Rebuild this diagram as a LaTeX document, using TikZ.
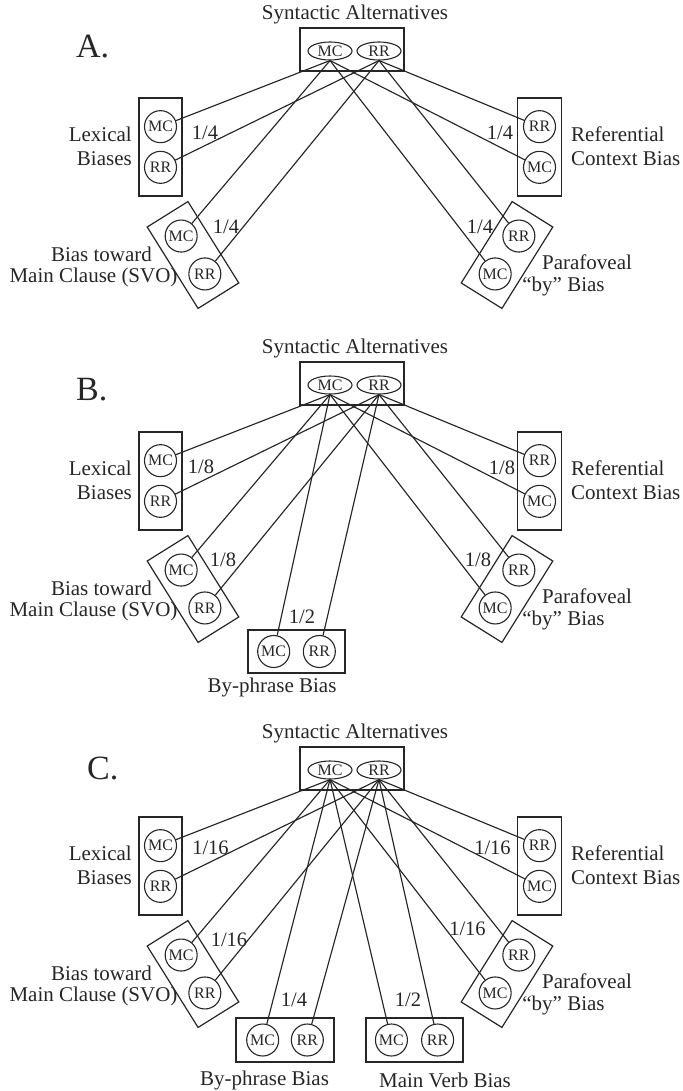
\documentclass[tikz,border=0pt]{standalone}
\usepackage{fontspec}
\setmainfont{Liberation Serif}
\usetikzlibrary{shapes.geometric,calc}

\definecolor{ink}{gray}{0.15}

% top box and the four side groups, shared by all three panels
\newcommand{\biasframe}[1]{%
  % Syntactic alternatives
  \node[lab] (#1title) at (355,14.5) {Syntactic Alternatives};
  \node[group, minimum width=104, minimum height=43] (#1syn) at (352,49.5) {};
  \node[alt] (#1mc) at (330,51) {MC};
  \node[alt] (#1rr) at (379,51) {RR};

  % Lexical biases
  \node[group, minimum width=43, minimum height=98] (#1lex) at (160.5,147) {};
  \node[opt] (#1lexmc) at ($(#1lex.center)!0.41!(#1lex.north)$) {MC};
  \node[opt] (#1lexrr) at ($(#1lex.center)!0.41!(#1lex.south)$) {RR};
  \node[lab, anchor=east, align=right] (#1lexlab) at (132,146) {Lexical\\Biases};

  % Referential context bias
  \node[group, minimum width=44, minimum height=98] (#1ref) at (539.5,147) {};
  \node[opt] (#1refrr) at ($(#1ref.center)!0.41!(#1ref.north)$) {RR};
  \node[opt] (#1refmc) at ($(#1ref.center)!0.41!(#1ref.south)$) {MC};
  \node[lab, anchor=west, align=left] (#1reflab) at (571,146) {Referential\\Context Bias};

  % Bias toward main clause (tilted)
  \node[group, minimum width=48, minimum height=96, rotate=32] (#1svo) at (193,255) {};
  \node[opt] (#1svomc) at ($(#1svo.center)!0.46!(#1svo.north)$) {MC};
  \node[opt] (#1svorr) at ($(#1svo.center)!0.46!(#1svo.south)$) {RR};
  \node[lab] (#1svolab) at (101.5,254) {Bias toward};
  \node[lab] (#1svolabb) at (93.5,277) {Main Clause (SVO)};

  % Parafoveal "by" bias (tilted)
  \node[group, minimum width=48, minimum height=96, rotate=-32] (#1par) at (507,255) {};
  \node[opt] (#1parrr) at ($(#1par.center)!0.46!(#1par.north)$) {RR};
  \node[opt] (#1parmc) at ($(#1par.center)!0.46!(#1par.south)$) {MC};
  \node[lab] (#1parlab) at (587,262) {Parafoveal};
  \node[lab] (#1parlabb) at (563.5,286) {“by” Bias};

  % links from the two alternatives
  \foreach \g in {lex,ref,svo,par} {
    \draw[link] (#1mc.south) -- (#1\g mc);
    \draw[link] (#1rr.south) -- (#1\g rr);
  }
}

\begin{document}
\begin{tikzpicture}[x=1pt, y=-1pt,
    lab/.style={font=\fontsize{21}{24}\selectfont, text=ink, inner sep=0pt},
    frac/.style={font=\fontsize{20.5}{24}\selectfont, text=ink, inner sep=0pt},
    letter/.style={font=\fontsize{34}{36}\selectfont, text=ink, inner sep=0pt},
    group/.style={draw=ink, line width=1.2pt, rectangle, inner sep=0pt},
    alt/.style={draw=ink, ellipse, line width=1.1pt, minimum width=44, minimum height=18,
                inner sep=0pt, text=ink, font=\fontsize{16}{16}\selectfont},
    opt/.style={draw=ink, circle, line width=1.1pt, minimum size=32, inner sep=0pt,
                text=ink, font=\fontsize{16}{16}\selectfont},
    link/.style={draw=ink, line width=1.15pt}]
  \useasboundingbox (0,0) rectangle (682,1091);

  % A. - four biases, 1/4 each
  \begin{scope}
    \biasframe{a}
    \node[letter, anchor=west] (alet) at (76,47) {A.};
    \node[frac] (afraclex) at (205,133) {1/4};
    \node[frac] (afracref) at (500,133) {1/4};
    \node[frac] (afracsvo) at (226,227) {1/4};
    \node[frac] (afracpar) at (480,227) {1/4};
  \end{scope}

  % B. - by-phrase bias added
  \begin{scope}[shift={(0,334)}]
    \biasframe{b}
    \node[letter, anchor=west] (blet) at (76,56) {B.};
    \node[frac] (bfraclex) at (201,133) {1/8};
    \node[frac] (bfracref) at (502,134) {1/8};
    \node[frac] (bfracsvo) at (223,226) {1/8};
    \node[frac] (bfracpar) at (478,226) {1/8};

    \node[group, minimum width=97, minimum height=43] (bby) at (296.5,317.5) {};
    \node[opt] (bbymc) at ($(bby.center)!0.465!(bby.west)$) {MC};
    \node[opt] (bbyrr) at ($(bby.center)!0.465!(bby.east)$) {RR};
    \node[lab] (bbylab) at (272,353) {By-phrase Bias};
    \draw[link] (bmc.south) -- (bbymc);
    \draw[link] (brr.south) -- (bbyrr);
    \node[frac] (bfracby) at (302,283) {1/2};
  \end{scope}

  % C. - by-phrase and main verb biases added
  \begin{scope}[shift={(0,719)}]
    \biasframe{c}
    \node[letter, anchor=west] (clet) at (87,49) {C.};
    \node[frac] (cfraclex) at (210.5,129) {1/16};
    \node[frac] (cfracref) at (492.5,129) {1/16};
    \node[frac] (cfracsvo) at (229,221) {1/16};
    \node[frac] (cfracpar) at (467.5,210) {1/16};

    \node[group, minimum width=98, minimum height=44] (cby) at (285,321) {};
    \node[opt] (cbymc) at ($(cby.center)!0.45!(cby.west)$) {MC};
    \node[opt] (cbyrr) at ($(cby.center)!0.45!(cby.east)$) {RR};
    \node[lab] (cbylab) at (264.5,361) {By-phrase Bias};

    \node[group, minimum width=97, minimum height=44] (cmv) at (414.5,321) {};
    \node[opt] (cmvmc) at ($(cmv.center)!0.47!(cmv.west)$) {MC};
    \node[opt] (cmvrr) at ($(cmv.center)!0.47!(cmv.east)$) {RR};
    \node[lab] (cmvlab) at (445,361) {Main Verb Bias};

    \draw[link] (cmc.south) -- (cbymc);
    \draw[link] (crr.south) -- (cbyrr);
    \draw[link] (cmc.south) -- (cmvmc);
    \draw[link] (crr.south) -- (cmvrr);
    \node[frac] (cfracby) at (294,281) {1/4};
    \node[frac] (cfracmv) at (408,281) {1/2};
  \end{scope}
\end{tikzpicture}
\end{document}
